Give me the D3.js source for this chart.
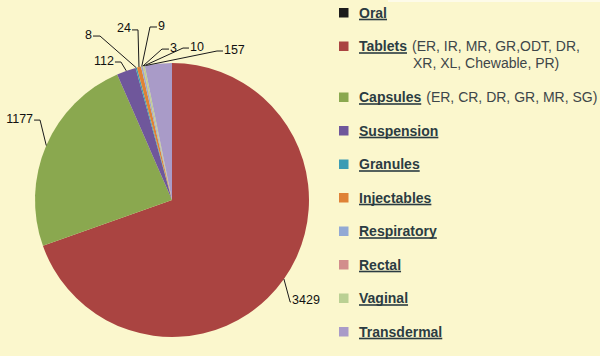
<!DOCTYPE html>
<html>
<head>
<meta charset="utf-8">
<script src="https://cdn.jsdelivr.net/npm/d3@7"></script>
<style>
  html, body { margin: 0; padding: 0; background: #fbf7cd; }
  svg { display: block; }
</style>
</head>
<body>
<svg id="chart" width="600" height="356"></svg>
<script>
// ---- data ----
const categories = ["Oral", "Tablets", "Capsules", "Suspension", "Granules", "Injectables", "Respiratory", "Rectal", "Vaginal", "Transdermal"];
const values     = [0, 3429, 1177, 112, 8, 24, 9, 3, 10, 157];
const subtitles  = [[], ["(ER, IR, MR, GR,ODT, DR,", "XR, XL, Chewable, PR)"], ["(ER, CR, DR, GR, MR, SG)"], [], [], [], [], [], [], []];

// ---- style / layout (kept apart from data) ----
const colors = ["#1c1c1c", "#aa4441", "#8aa84f", "#6f579b", "#3c9cb4", "#df8236", "#92a9d4", "#d28d8c", "#bad093", "#a99bc8"];
const W = 600, H = 356;
const cx = 172, cy = 200, R = 137;
// label placement: elbow point in polar terms (deg clockwise from top, radius multiple), side of text, anchor fraction within slice
const labelLayout = {
  "Tablets":     {ang: 130.8, k: 1.139, side: "right", seg: 1, frac: 0.5},
  "Capsules":    {ang: 301.2, k: 1.126, side: "left",  seg: 6, frac: 0.5},
  "Suspension":  {ang: 339.7, k: 1.074, side: "left",  seg: 6, frac: 0.5},
  "Granules":    {ang: 336.3, k: 1.307, side: "left",  seg: 7, frac: 0.5},
  "Injectables": {ang: 348.7, k: 1.266, side: "left",  seg: 6, frac: 0.5},
  "Respiratory": {ang: 352.75,k: 1.273, side: "right", seg: 7, frac: 0.5},
  "Rectal":      {ang: 356.2, k: 1.104, side: "right", seg: 7, frac: 0.5},
  "Vaginal":     {ang: 4.14,  k: 1.112, side: "right", seg: 6, frac: 0.5},
  "Transdermal": {ang: 16.8,  k: 1.136, side: "right", seg: 6, frac: 0.05}
};

const svg = d3.select("#chart");
svg.append("rect").attr("width", W).attr("height", H).attr("fill", "#fbf7cd");
svg.append("rect").attr("x", 388).attr("y", 0).attr("width", 212).attr("height", 2).attr("fill", "#fdfbe9");

const rows = categories.map((c, i) => ({name: c, value: values[i], color: colors[i], sub: subtitles[i]}));

const pie = d3.pie().sort(null).value(d => d.value).startAngle(0).endAngle(2 * Math.PI);
const arcs = pie(rows);
const arc = d3.arc().innerRadius(0).outerRadius(R);

const g = svg.append("g").attr("transform", `translate(${cx},${cy})`);
g.selectAll("path.slice").data(arcs.filter(a => a.data.value > 0)).join("path")
  .attr("class", "slice")
  .attr("d", arc)
  .attr("fill", d => d.data.color);

// leader lines and value labels
const deg = Math.PI / 180;
const labelsG = g.append("g");
arcs.filter(a => a.data.value > 0).forEach(a => {
  const L = labelLayout[a.data.name];
  const aa = a.startAngle + (a.endAngle - a.startAngle) * L.frac;
  const p0 = d3.pointRadial(aa, R);
  const p1 = d3.pointRadial(L.ang * deg, R * L.k);
  const dir = L.side === "right" ? 1 : -1;
  const p2 = [p1[0] + dir * L.seg, p1[1]];
  labelsG.append("path")
    .attr("d", d3.line()([p0, p1, p2]))
    .attr("fill", "none").attr("stroke", "#1a1a1a").attr("stroke-width", 1);
  labelsG.append("text")
    .attr("x", p2[0] + dir * 1)
    .attr("y", p2[1] + 2.5)
    .attr("text-anchor", L.side === "right" ? "start" : "end")
    .attr("font-family", "Liberation Sans, Arial, sans-serif")
    .attr("font-size", 12.5)
    .attr("fill", "#111")
    .text(d3.format("d")(a.data.value));
});

// legend
const legendX = 339, textX = 359;
const rowStep = 33.5, extraLine = 17.5, startY = 17.5;
let y = startY;
const legend = svg.append("g");
rows.forEach((r, i) => {
  const item = legend.append("g");
  item.append("rect").attr("x", legendX).attr("y", y - 9.5).attr("width", 9.5).attr("height", 9.5).attr("fill", r.color);
  const t = item.append("text")
    .attr("x", textX).attr("y", y)
    .attr("font-family", "Liberation Sans, Arial, sans-serif")
    .attr("font-size", 14).attr("font-weight", "bold")
    .attr("fill", "#2b3c42")
    .text(r.name);
  const w = t.node().getComputedTextLength();
  item.append("rect").attr("x", textX).attr("y", y + 1.2).attr("width", w).attr("height", 1.6).attr("fill", "#2b3c42");
  r.sub.forEach((s, j) => {
    item.append("text")
      .attr("x", textX + w + 5 + (j > 0 ? 1 : 0))
      .attr("y", y + j * 17)
      .attr("font-family", "Liberation Sans, Arial, sans-serif")
      .attr("font-size", 14)
      .attr("fill", "#3e4649")
      .text(s);
  });
  y += rowStep + Math.max(0, r.sub.length - 1) * extraLine;
});
</script>
</body>
</html>
